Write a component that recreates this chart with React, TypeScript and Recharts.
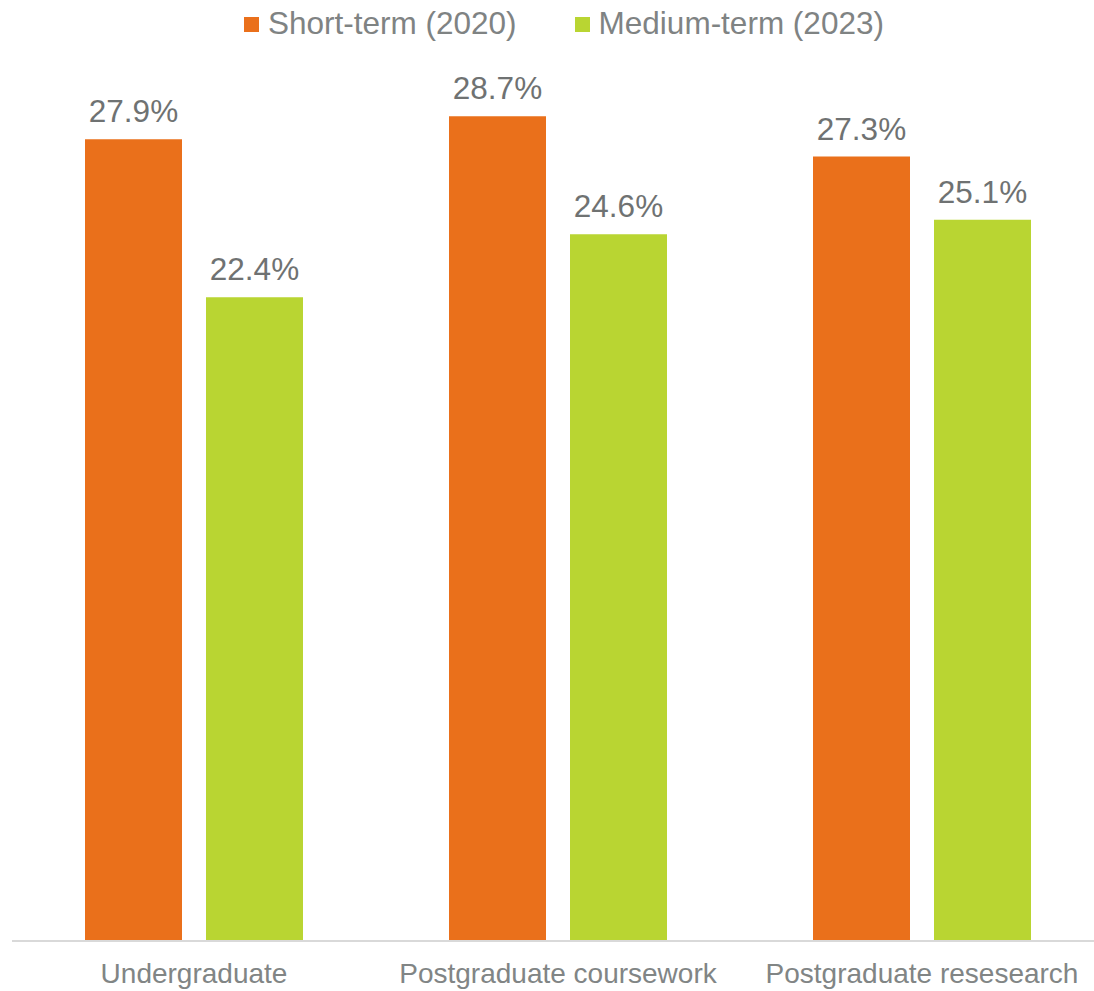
import { BarChart, Bar, XAxis, YAxis, LabelList } from "recharts";

const categories = ["Undergraduate", "Postgraduate coursework", "Postgraduate resesearch"];
const shortTerm = [27.9, 28.7, 27.3];
const mediumTerm = [22.4, 24.6, 25.1];

const seriesNames = ["Short-term (2020)", "Medium-term (2023)"];
const seriesKeys = ["short", "medium"];
const seriesColors = ["#EA701B", "#B9D532"];

const data = categories.map((name, i) => ({
  name,
  short: shortTerm[i],
  medium: mediumTerm[i],
}));

const FONT = '"Liberation Sans", Arial, sans-serif';

function TopLegend() {
  return (
    <div
      style={{
        position: "absolute",
        left: 244,
        top: 8,
        display: "flex",
        alignItems: "center",
        height: 32,
        fontFamily: FONT,
        fontSize: 31.5,
        color: "#7f8383",
        lineHeight: 1,
        whiteSpace: "nowrap",
      }}
    >
      {seriesNames.map((label, i) => (
        <div
          key={label}
          style={{ display: "flex", alignItems: "center", marginRight: i === 0 ? 58 : 0 }}
        >
          <span
            style={{
              display: "inline-block",
              width: 15,
              height: 15,
              backgroundColor: seriesColors[i],
              marginRight: 9,
            }}
          />
          <span>{label}</span>
        </div>
      ))}
    </div>
  );
}

export default function App() {
  return (
    <div style={{ position: "absolute", left: 0, top: 0, width: 1094, height: 991, background: "#fff" }}>
      <BarChart
        width={1094}
        height={991}
        data={data}
        margin={{ top: 79, right: -10, bottom: 0, left: 12 }}
        barGap={24}
        barSize={97}
      >
        <XAxis
          dataKey="name"
          height={50}
          tickLine={false}
          tickSize={0}
          tickMargin={22}
          axisLine={{ stroke: "#d9d9d9", strokeWidth: 2 }}
          tick={{ fill: "#818585", fontSize: 28, fontFamily: FONT }}
          interval={0}
        />
        <YAxis hide domain={[0, 30]} />
        {seriesKeys.map((key, i) => (
          <Bar key={key} dataKey={key} name={seriesNames[i]} fill={seriesColors[i]} isAnimationActive={false}>
            <LabelList
              dataKey={key}
              position="top"
              offset={17}
              formatter={(v: number) => `${v.toFixed(1)}%`}
              style={{ fill: "#6f7272", fontSize: 31.5, fontFamily: FONT }}
            />
          </Bar>
        ))}
      </BarChart>
      <TopLegend />
    </div>
  );
}
